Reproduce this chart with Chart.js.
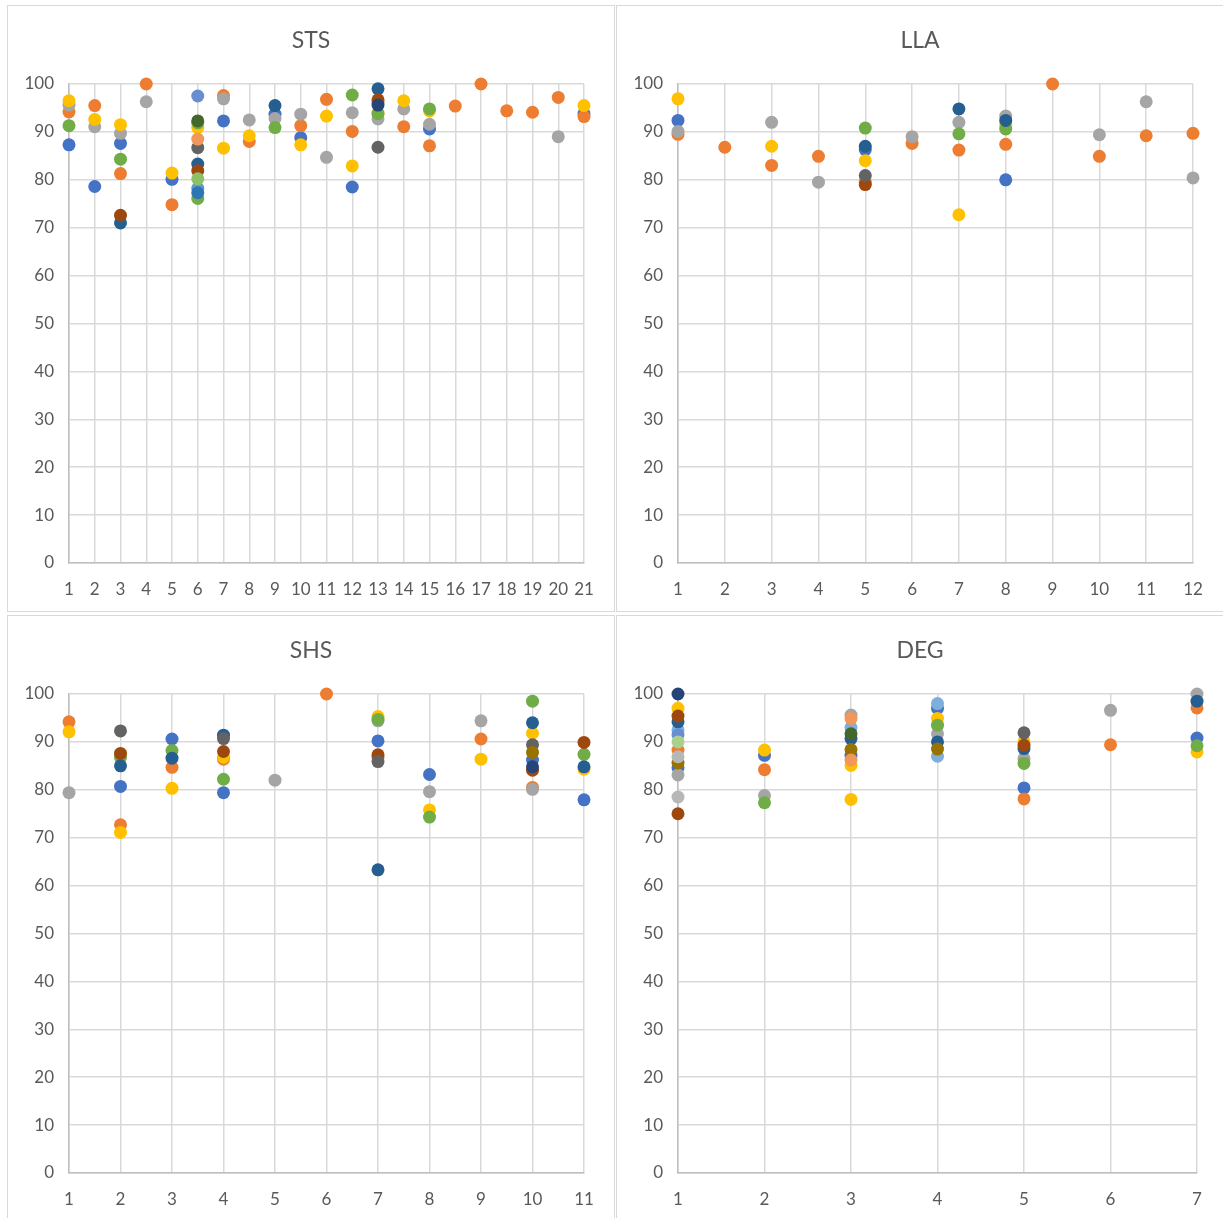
<!DOCTYPE html>
<html>
<head>
<meta charset="utf-8">
<script src="https://cdn.jsdelivr.net/npm/chart.js@4.4.1/dist/chart.umd.min.js"></script>
<style>
  body { margin: 0; background: #fff; }
  .panel { position: absolute; width: 608px; height: 607px; border: 1px solid #d9d9d9; box-sizing: border-box; background: #fff; }
  .panel canvas { display: block; }
</style>
</head>
<body>
<div class="panel" style="left:7px;top:5px"><canvas id="sts" width="606" height="605"></canvas></div>
<div class="panel" style="left:616px;top:5px"><canvas id="lla" width="606" height="605"></canvas></div>
<div class="panel" style="left:7px;top:615px"><canvas id="shs" width="606" height="605"></canvas></div>
<div class="panel" style="left:616px;top:615px"><canvas id="deg" width="606" height="605"></canvas></div>
<script>
// Office palette used by the series
const blue = '#4472C4', orange = '#ED7D31', gray = '#A5A5A5', yellow = '#FFC000',
      lightBlue = '#5B9BD5', green = '#70AD47', darkBlue = '#255E91', darkOrange = '#9E480E',
      darkGray = '#636363', darkYellow = '#997300', navy = '#264478', darkGreen = '#43682B',
      periwinkle = '#698ED0', lightOrange = '#F1975A', lightGray = '#B7B7B7', lightGreen = '#8CC168',
      paleBlue = '#7CAFDD', paleGreen = '#A9D18E', midBlue = '#2E75B6';

const yTicks = [0, 10, 20, 30, 40, 50, 60, 70, 80, 90, 100];

// STS, x = 1..21
const stsBlue = [[1,87.3],[2,78.6],[3,87.6],[5,80.1],[7,92.3],[9,93.7],[10,88.8],[12,78.5],[15,90.6],[21,93.8]];
const stsOrange = [[1,94.2],[2,95.5],[3,81.3],[4,100],[5,74.8],[7,97.6],[8,88.0],[10,91.3],[11,96.8],[12,90.1],[13,96.3],[14,91.1],[15,87.1],[16,95.4],[17,100],[18,94.4],[19,94.1],[20,97.2],[21,93.2]];
const stsGray = [[1,95.6],[2,91.1],[3,89.7],[4,96.3],[7,96.9],[8,92.5],[9,92.8],[10,93.7],[11,84.7],[12,94.0],[13,92.7],[14,94.8],[15,91.6],[20,89.0]];
const stsYellow = [[1,96.5],[2,92.6],[3,91.5],[5,81.4],[6,90.9],[7,86.6],[8,89.2],[10,87.3],[11,93.3],[12,82.9],[13,93.9],[14,96.5],[15,94.4],[21,95.5]];
const stsLightBlue = [[6,78.2]];
const stsGreen = [[1,91.3],[3,84.3],[6,76.1],[6,91.9],[9,90.9],[12,97.7],[13,93.8],[15,94.8]];
const stsDarkBlue = [[3,71.0],[6,83.3],[9,95.5],[13,99.0]];
const stsDarkOrange = [[3,72.6],[6,81.9],[13,96.7]];
const stsDarkGray = [[6,86.7],[13,86.8]];
const stsNavy = [[13,95.6]];
const stsDarkGreen = [[6,92.3]];
const stsPeriwinkle = [[6,97.5]];
const stsLightOrange = [[6,88.5]];
const stsLightGreen = [[6,80.2]];
const stsMidBlue = [[6,77.3]];

// LLA, x = 1..12
const llaBlue = [[1,92.4],[5,86.3],[8,80.0]];
const llaOrange = [[1,89.5],[2,86.8],[3,83.0],[4,84.9],[5,79.5],[6,87.6],[7,86.2],[8,87.4],[9,100],[10,84.9],[11,89.2],[12,89.7]];
const llaGray = [[1,90.1],[3,92.0],[4,79.5],[6,89.0],[7,92.0],[8,93.3],[10,89.4],[11,96.3],[12,80.4]];
const llaYellow = [[1,96.9],[3,87.0],[5,84.0],[7,72.7],[8,91.5]];
const llaGreen = [[5,90.8],[7,89.6],[8,90.6]];
const llaDarkBlue = [[5,87.0],[7,94.8],[8,92.4]];
const llaDarkOrange = [[5,79.0]];
const llaDarkGray = [[5,80.9]];

// SHS, x = 1..11
const shsBlue = [[2,80.7],[3,90.6],[4,79.4],[7,90.2],[8,83.2],[10,86.2],[11,77.9]];
const shsOrange = [[1,94.2],[2,72.7],[3,84.7],[4,86.4],[6,100],[7,86.8],[9,90.6],[10,80.5]];
const shsGray = [[1,79.4],[5,82.0],[7,94.4],[8,79.6],[9,94.4],[10,80.1]];
const shsYellow = [[1,92.1],[2,71.1],[3,80.3],[4,86.8],[7,95.3],[8,75.8],[9,86.4],[10,91.8],[11,84.3]];
const shsGreen = [[2,86.8],[3,88.2],[4,82.2],[7,94.7],[8,74.3],[10,98.5],[11,87.4]];
const shsDarkBlue = [[2,85.0],[3,86.6],[4,91.4],[7,63.3],[10,94.0],[11,84.8]];
const shsDarkOrange = [[2,87.6],[4,88.0],[7,87.3],[10,84.1],[11,89.9]];
const shsDarkGray = [[2,92.3],[4,90.7],[7,85.9],[10,89.4]];
const shsDarkYellow = [[10,87.8]];
const shsNavy = [[10,84.8]];

// DEG, x = 1..7
const degBlue = [[1,84.6],[2,87.2],[3,87.2],[4,97.0],[5,80.4],[7,90.8]];
const degOrange = [[1,88.3],[2,84.2],[5,78.1],[6,89.4],[7,97.1]];
const degGray = [[1,83.1],[2,78.8],[3,95.6],[4,91.7],[5,86.5],[6,96.6],[7,100]];
const degYellow = [[1,97.0],[2,88.3],[3,85.1],[3,78.0],[4,94.9],[5,90.0],[7,87.9]];
const degLightBlue = [[1,92.5],[3,93.0],[4,98.0],[4,87.0]];
const degGreen = [[2,77.3],[4,93.5],[5,85.5],[7,89.2]];
const degDarkBlue = [[1,94.2],[3,90.7],[4,90.0],[5,88.6],[7,98.5]];
const degDarkOrange = [[1,95.4],[1,75.0],[5,89.3]];
const degDarkGray = [[5,91.9]];
const degDarkYellow = [[1,85.6],[3,88.4],[4,88.5]];
const degNavy = [[1,100]];
const degDarkGreen = [[3,91.7]];
const degPeriwinkle = [[1,91.5]];
const degLightOrange = [[3,94.9],[3,86.2]];
const degLightGray = [[1,86.9],[1,78.5]];
const degLightGreen = [[1,90.0]];

const FONT = 'Lato, Carlito, sans-serif';

// title centred on the whole panel (Chart.js' own title centres on the padded box)
const panelTitle = {
  id: 'panelTitle',
  afterDraw(chart, args, opts) {
    const c = chart.ctx;
    c.save();
    c.font = '23px ' + FONT;
    c.fillStyle = '#595959';
    c.textAlign = 'center';
    c.textBaseline = 'middle';
    c.fillText(opts.text, chart.width / 2, 35);
    c.restore();
  }
};

function toPoints(pairs) {
  return pairs.map(p => ({ x: p[0], y: p[1] }));
}

function makePanel(id, title, xMax, rightPad, series) {
  const ctx = document.getElementById(id).getContext('2d');
  const datasets = series.map((s, i) => ({
    data: toPoints(s[0]),
    backgroundColor: s[1],
    borderColor: s[1],
    pointRadius: 6.5,
    pointBorderWidth: 0,
    pointHoverRadius: 6.5,
    showLine: false,
    clip: false,
    order: series.length - i
  }));
  return new Chart(ctx, {
    type: 'scatter',
    data: { datasets: datasets },
    plugins: [panelTitle],
    options: {
      responsive: false,
      animation: false,
      layout: { padding: { top: 78, left: 0, right: rightPad, bottom: 0 } },
      plugins: {
        legend: { display: false },
        tooltip: { enabled: false },
        panelTitle: { text: title }
      },
      scales: {
        x: {
          type: 'linear',
          min: 1,
          max: xMax,
          ticks: { stepSize: 1, color: '#595959', padding: 16, font: { family: FONT, size: 17 } },
          grid: { color: '#d9d9d9', lineWidth: 1.5, drawTicks: false },
          border: { color: '#bfbfbf', width: 1.5 },
          afterFit: scale => { scale.height = 48; }
        },
        y: {
          min: 0,
          max: 100,
          afterBuildTicks: scale => { scale.ticks = yTicks.map(v => ({ value: v })); },
          ticks: { color: '#595959', padding: 15, font: { family: FONT, size: 17 } },
          grid: { color: '#d9d9d9', lineWidth: 1.5, drawTicks: false },
          border: { color: '#bfbfbf', width: 1.5 },
          afterFit: scale => { scale.width = 61; }
        }
      }
    }
  });
}

makePanel('sts', 'STS', 21, 30, [
  [stsBlue, blue], [stsOrange, orange], [stsGray, gray], [stsYellow, yellow],
  [stsLightBlue, lightBlue], [stsGreen, green], [stsDarkBlue, darkBlue], [stsDarkOrange, darkOrange],
  [stsDarkGray, darkGray], [stsNavy, navy], [stsDarkGreen, darkGreen], [stsPeriwinkle, periwinkle],
  [stsLightOrange, lightOrange], [stsLightGreen, lightGreen], [stsMidBlue, midBlue]
]);

makePanel('lla', 'LLA', 12, 30, [
  [llaBlue, blue], [llaOrange, orange], [llaGray, gray], [llaYellow, yellow],
  [llaGreen, green], [llaDarkBlue, darkBlue], [llaDarkOrange, darkOrange], [llaDarkGray, darkGray]
]);

makePanel('shs', 'SHS', 11, 30, [
  [shsBlue, blue], [shsOrange, orange], [shsGray, gray], [shsYellow, yellow],
  [shsGreen, green], [shsDarkBlue, darkBlue], [shsDarkOrange, darkOrange], [shsDarkGray, darkGray],
  [shsDarkYellow, darkYellow], [shsNavy, navy]
]);

makePanel('deg', 'DEG', 7, 26, [
  [degBlue, blue], [degOrange, orange], [degGray, gray], [degYellow, yellow],
  [degLightBlue, paleBlue], [degGreen, green], [degDarkBlue, darkBlue], [degDarkOrange, darkOrange],
  [degDarkGray, darkGray], [degDarkYellow, darkYellow], [degNavy, navy], [degDarkGreen, darkGreen],
  [degPeriwinkle, periwinkle], [degLightOrange, lightOrange], [degLightGray, lightGray], [degLightGreen, paleGreen]
]);
</script>
</body>
</html>
